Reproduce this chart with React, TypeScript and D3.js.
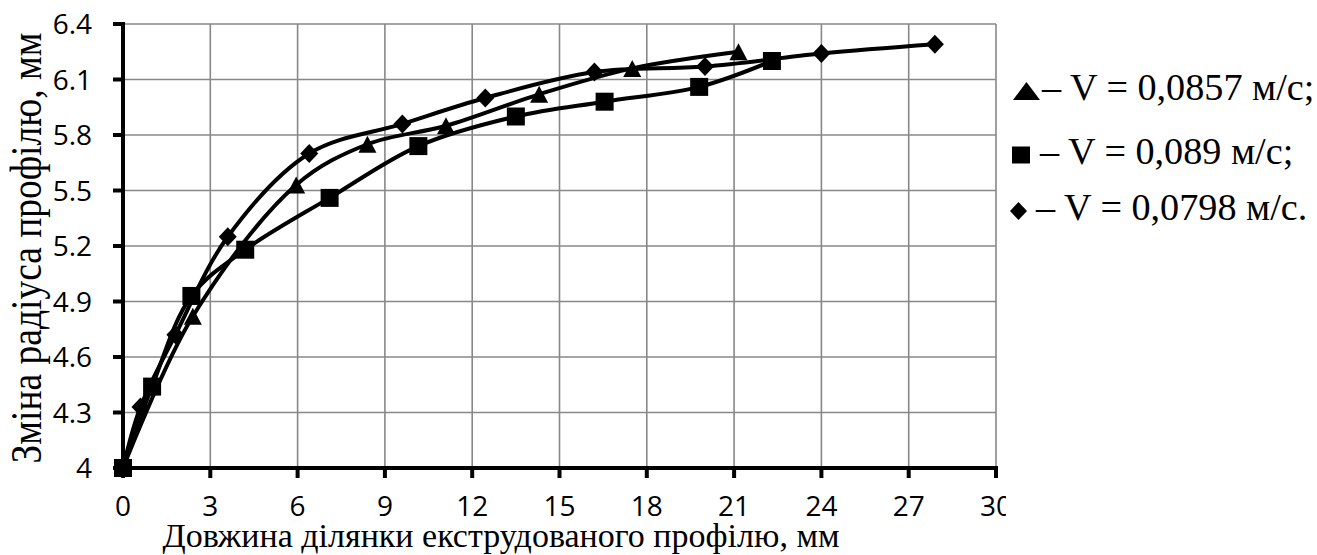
import React from "react";
import * as d3 from "d3";

// Tick values for both axes
const xTickValues = [0, 3, 6, 9, 12, 15, 18, 21, 24, 27, 30];
const yTickValues = [4, 4.3, 4.6, 4.9, 5.2, 5.5, 5.8, 6.1, 6.4];
const yTickLabels = ["4", "4.3", "4.6", "4.9", "5.2", "5.5", "5.8", "6.1", "6.4"];

// Series: profile length (mm) vs. radius (mm)
const triangleX = [0, 2.4, 5.95, 8.4, 11.1, 14.3, 17.5, 21.15];
const triangleY = [4, 4.82, 5.53, 5.75, 5.85, 6.02, 6.16, 6.25];

const squareX = [0, 1.0, 2.35, 4.2, 7.1, 10.15, 13.5, 16.55, 19.8, 22.3];
const squareY = [4, 4.44, 4.93, 5.18, 5.46, 5.74, 5.9, 5.98, 6.06, 6.2];

const diamondX = [0, 0.6, 1.8, 3.6, 6.4, 9.6, 12.45, 16.2, 20.0, 24.0, 27.9];
const diamondY = [4, 4.33, 4.72, 5.25, 5.7, 5.86, 6.0, 6.14, 6.17, 6.24, 6.29];

const legendLabels = ["– V = 0,0857 м/с;", "– V = 0,089 м/с;", "– V = 0,0798 м/с."];

const xTitle = "Довжина ділянки екструдованого профілю, мм";
const yTitle = "Зміна радіуса профілю, мм";

const W = 1317;
const H = 555;
const left = 123;
const right = 996;
const top = 24;
const bottom = 468;

const serif = "'Liberation Serif', 'Times New Roman', serif";
const sans = "'Open Sans', 'Noto Sans', sans-serif";

type Shape = "triangle" | "square" | "diamond";

function markerPath(shape: Shape, cx: number, cy: number, w: number, h: number): string {
  const a = w / 2;
  const b = h / 2;
  if (shape === "square") {
    return `M${cx - a},${cy - b}H${cx + a}V${cy + b}H${cx - a}Z`;
  }
  if (shape === "triangle") {
    return `M${cx},${cy - b}L${cx + a},${cy + b}L${cx - a},${cy + b}Z`;
  }
  return `M${cx},${cy - b}L${cx + a},${cy}L${cx},${cy + b}L${cx - a},${cy}Z`;
}

export default function App() {
  const x = d3.scaleLinear().domain([0, 30]).range([left, right]);
  const y = d3.scaleLinear().domain([4, 6.4]).range([bottom, top]);

  const line = d3
    .line<[number, number]>()
    .x((d) => x(d[0]))
    .y((d) => y(d[1]))
    .curve(d3.curveCatmullRom.alpha(0.5));

  const series: { shape: Shape; xs: number[]; ys: number[]; w: number; h: number }[] = [
    { shape: "triangle", xs: triangleX, ys: triangleY, w: 18, h: 17 },
    { shape: "diamond", xs: diamondX, ys: diamondY, w: 18, h: 19 },
    { shape: "square", xs: squareX, ys: squareY, w: 18, h: 18 },
  ];

  const legendShapes: Shape[] = ["triangle", "square", "diamond"];
  const legendY = [100, 164, 220];
  const legendMarkerX = [1026.5, 1021, 1018.5];
  const legendTextX = [1042, 1040, 1036];
  const legendMarkerW = [27, 18, 17];
  const legendMarkerH = [18, 17, 18];

  return (
    <svg
      width={W}
      height={H}
      style={{ position: "absolute", left: 0, top: 0, background: "#fff" }}
    >
      <defs>
        <clipPath id="xlabels-clip">
          <rect x={0} y={480} width={1006} height={42} />
        </clipPath>
      </defs>

      {/* grid */}
      <g stroke="#888" strokeWidth={1.6}>
        {xTickValues.map((v) => (
          <line key={"gx" + v} x1={x(v)} x2={x(v)} y1={top} y2={bottom} />
        ))}
        {yTickValues.map((v) => (
          <line key={"gy" + v} x1={left} x2={right} y1={y(v)} y2={y(v)} />
        ))}
      </g>

      {/* axes */}
      <g stroke="#000" strokeWidth={4}>
        <line x1={left} x2={left} y1={top - 2} y2={bottom + 2} />
        <line x1={left - 2} x2={right + 2} y1={bottom} y2={bottom} />
        {yTickValues.map((v) => (
          <line key={"ty" + v} x1={left - 10} x2={left} y1={y(v)} y2={y(v)} />
        ))}
        {xTickValues.map((v) => (
          <line key={"tx" + v} x1={x(v)} x2={x(v)} y1={bottom} y2={bottom + 10} />
        ))}
      </g>

      {/* tick labels */}
      <g fontFamily={sans} fontSize={28} fill="#000">
        {yTickValues.map((v, i) => (
          <text key={"ly" + v} x={92} y={y(v) + 10} textAnchor="end">
            {yTickLabels[i]}
          </text>
        ))}
        <g clipPath="url(#xlabels-clip)">
          {xTickValues.map((v) => (
            <text key={"lx" + v} x={x(v)} y={516} textAnchor="middle">
              {String(v)}
            </text>
          ))}
        </g>
      </g>

      {/* axis titles */}
      <text x={501} y={547} textAnchor="middle" fontFamily={serif} fontSize={34}>
        {xTitle}
      </text>
      <text
        transform={`translate(41,${248}) rotate(-90) scale(1,1.2)`}
        textAnchor="middle"
        fontFamily={serif}
        fontSize={37.5}
      >
        {yTitle}
      </text>

      {/* series lines */}
      {series.map((s, i) => (
        <path
          key={"line" + i}
          d={line(s.xs.map((v, j) => [v, s.ys[j]] as [number, number])) || ""}
          fill="none"
          stroke="#000"
          strokeWidth={4}
          strokeLinejoin="round"
        />
      ))}

      {/* markers */}
      {series.map((s, i) => (
        <g key={"mk" + i} fill="#000">
          {s.xs.map((v, j) => (
            <path key={j} d={markerPath(s.shape, x(v), y(s.ys[j]), s.w, s.h)} />
          ))}
        </g>
      ))}

      {/* legend */}
      {legendLabels.map((label, i) => (
        <g key={"lg" + i}>
          <path
            d={markerPath(
              legendShapes[i],
              legendMarkerX[i],
              legendY[i] - 9,
              legendMarkerW[i],
              legendMarkerH[i]
            )}
            fill="#000"
          />
          <text x={legendTextX[i]} y={legendY[i]} fontFamily={serif} fontSize={38.2}>
            {label}
          </text>
        </g>
      ))}
    </svg>
  );
}
